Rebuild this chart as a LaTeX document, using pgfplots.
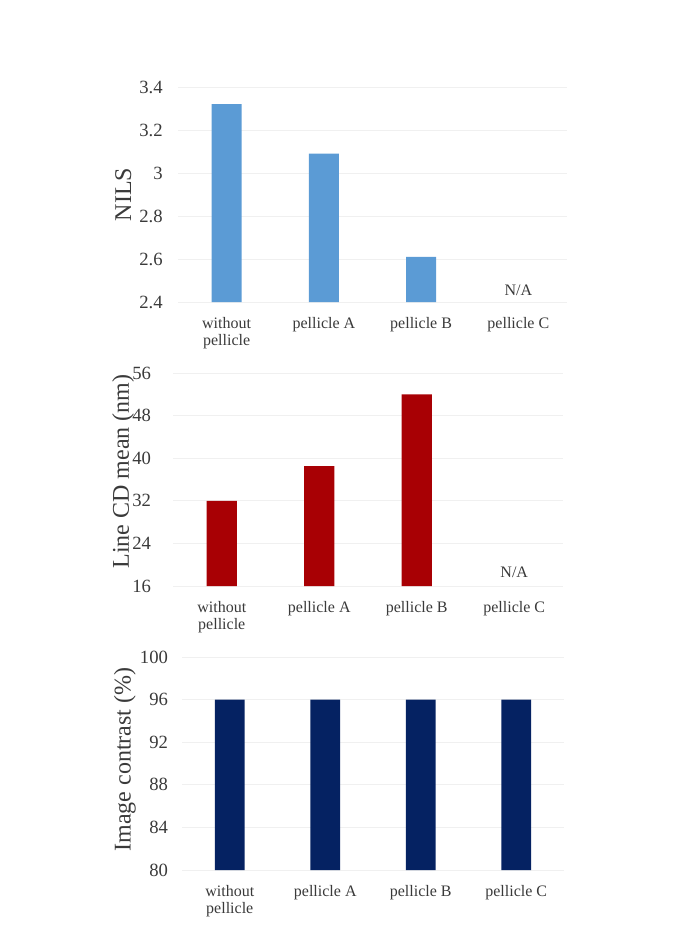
\documentclass[border=0pt]{standalone}
\usepackage{pgfplots}
\pgfplotsset{compat=1.18}
\usepackage{fontspec}
\setmainfont{Liberation Serif}

\definecolor{nilsblue}{HTML}{5B9BD5}
\definecolor{cdred}{HTML}{A80004}
\definecolor{contrastnavy}{HTML}{052262}
\definecolor{txtgray}{HTML}{3A3A3A}

\pgfplotsset{
  pelliclebars/.style={
    ybar, scale only axis,
    bar width=0.31,
    xmin=-0.5, xmax=3.5,
    xtick={0,1,2,3},
    xticklabels={{without\\pellicle},{pellicle A},{pellicle B},{pellicle C}},
    xticklabel style={align=center, font=\fontsize{12}{12.5}\selectfont, text=txtgray, yshift=-4pt},
    yticklabel style={font=\fontsize{14}{15}\selectfont, text=txtgray},
    /pgf/number format/assume math mode=true,
    axis line style={draw=none},
    tick style={draw=none},
    ymajorgrids, major grid style={gray!12, line width=0.6pt},
    every axis y label/.style={at={(rel axis cs:0,0.5)}, rotate=90, anchor=center,
      font=\fontsize{18}{19}\selectfont, text=txtgray},
    clip=false,
  },
}

\begin{document}
\begin{tikzpicture}
\path[use as bounding box] (0,0) rectangle (513pt,-696.75pt);

% NILS
\begin{axis}[pelliclebars,
  at={(133.5pt,-226.5pt)}, anchor=south west,
  width=291.75pt, height=161.25pt,
  ymin=2.4, ymax=3.4, ytick={2.4,2.6,2.8,3,3.2,3.4},
  yticklabels={2.4,2.6,2.8,3,3.2,3.4},
  yticklabel style={xshift=-8pt},
  ylabel={NILS},
  every axis y label/.append style={yshift=41pt}]
\addplot[fill=nilsblue, draw=none] coordinates {(0,3.32) (1,3.09) (2,2.61)};
\node[font=\fontsize{12}{12.5}\selectfont, text=txtgray] at (axis cs:3,2.4) [yshift=9pt] {N/A};
\end{axis}

% Line CD mean
\begin{axis}[pelliclebars,
  at={(129.75pt,-439.5pt)}, anchor=south west,
  width=292.5pt, height=159.75pt,
  ymin=16, ymax=56, ytick={16,24,32,40,48,56},
  ylabel={Line CD mean (nm)},
  every axis y label/.append style={yshift=37.5pt, xshift=6pt},
  yticklabel style={xshift=-13pt}]
\addplot[fill=cdred, draw=none] coordinates {(0,32.0) (1,38.5) (2,52.0)};
\node[font=\fontsize{12}{12.5}\selectfont, text=txtgray] at (axis cs:3,16) [yshift=10.5pt] {N/A};
\end{axis}

% Image contrast
\begin{axis}[pelliclebars,
  at={(136.5pt,-652.5pt)}, anchor=south west,
  width=286.5pt, height=159.75pt,
  ymin=80, ymax=100, ytick={80,84,88,92,96,100},
  ylabel={Image contrast (\%)},
  yticklabel style={xshift=-7pt},
  every axis y label/.append style={yshift=42.75pt, xshift=3pt}]
\addplot[fill=contrastnavy, draw=none] coordinates {(0,96) (1,96) (2,96) (3,96)};
\end{axis}
\end{tikzpicture}
\end{document}
